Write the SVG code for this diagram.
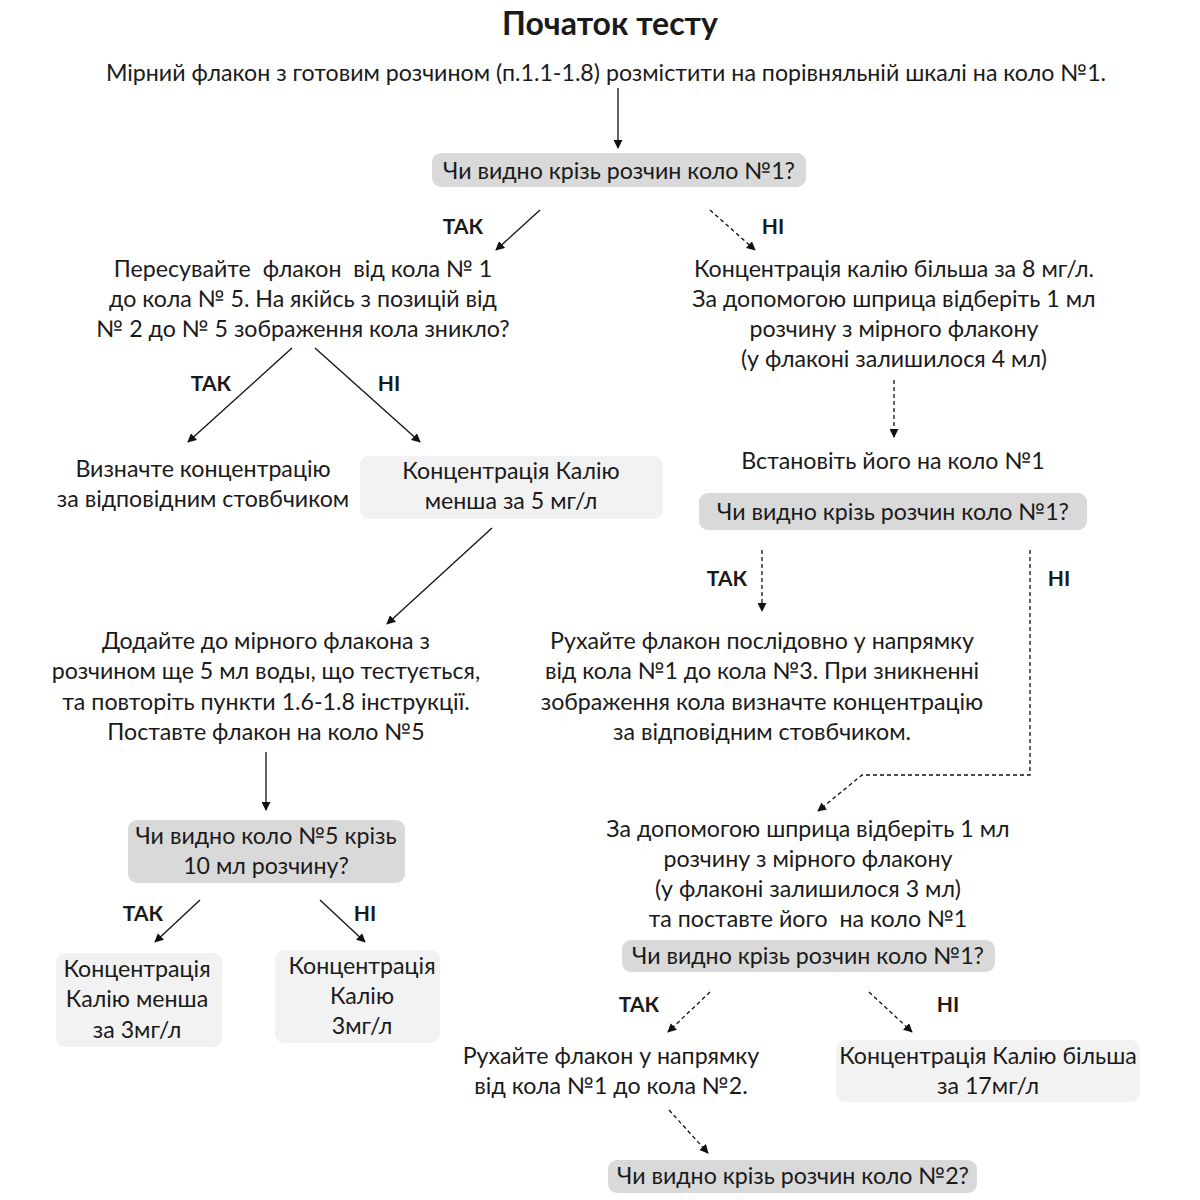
<svg xmlns="http://www.w3.org/2000/svg" width="1200" height="1200" viewBox="0 0 1200 1200">
<defs>
<marker id="ah" viewBox="0 0 10 10" refX="9" refY="5" markerWidth="9" markerHeight="9" markerUnits="userSpaceOnUse" orient="auto"><path d="M0,0 L10,5 L0,10 z" fill="#111"/></marker>
<style>
text{font-family:Lato,"Liberation Sans",sans-serif;font-size:23.2px;fill:#1a1a1a;text-anchor:middle;white-space:pre}
.t{font-size:32px;font-weight:bold}
.lb{font-weight:bold;font-size:21px}
.q{fill:#d9d9d9}
.r{fill:#f2f2f2}
.s{stroke:#111;stroke-width:1.3;fill:none;marker-end:url(#ah)}
.d{stroke:#111;stroke-width:1.3;fill:none;stroke-dasharray:4,3;marker-end:url(#ah)}
</style>
</defs>
<rect width="1200" height="1200" fill="#fff"/>
<g id="title"><text class="t" x="610" y="35">Початок тесту</text></g>
<g id="n-start"><text x="606" y="81">Мірний флакон з готовим розчином (п.1.1-1.8) розмістити на порівняльній шкалі на коло №1.</text></g>
<g id="n-q1"><rect class="q" x="432" y="153" width="374" height="34" rx="9"/><text x="619" y="179">Чи видно крізь розчин коло №1?</text></g>
<g id="n-move"><text x="303" y="277">Пересувайте  флакон  від кола № 1</text><text x="303" y="307">до кола № 5. На якійсь з позицій від</text><text x="303" y="337">№ 2 до № 5 зображення кола зникло?</text></g>
<g id="n-more8"><text x="894" y="277">Концентрація калію більша за 8 мг/л.</text><text x="894" y="307">За допомогою шприца відберіть 1 мл</text><text x="894" y="337">розчину з мірного флакону</text><text x="894" y="367">(у флаконі залишилося 4 мл)</text></g>
<g id="n-det1"><text x="203" y="477">Визначте концентрацію</text><text x="203" y="507">за відповідним стовбчиком</text></g>
<g id="n-less5"><rect class="r" x="360" y="456" width="303" height="63" rx="9"/><text x="511" y="479">Концентрація Калію</text><text x="511" y="509">менша за 5 мг/л</text></g>
<g id="n-set1"><text x="893" y="469">Встановіть його на коло №1</text></g>
<g id="n-q2"><rect class="q" x="699" y="493" width="388" height="37" rx="9"/><text x="893" y="520">Чи видно крізь розчин коло №1?</text></g>
<g id="n-add"><text x="266" y="649">Додайте до мірного флакона з</text><text x="266" y="679">розчином ще 5 мл воды, що тестується,</text><text x="266" y="710">та повторіть пункти 1.6-1.8 інструкції.</text><text x="266" y="740">Поставте флакон на коло №5</text></g>
<g id="n-move3"><text x="762" y="649">Рухайте флакон послідовно у напрямку</text><text x="762" y="679">від кола №1 до кола №3. При зникненні</text><text x="762" y="710">зображення кола визначте концентрацію</text><text x="762" y="740">за відповідним стовбчиком.</text></g>
<g id="n-q5"><rect class="q" x="128" y="820" width="277" height="63" rx="9"/><text x="266" y="844">Чи видно коло №5 крізь</text><text x="266" y="874">10 мл розчину?</text></g>
<g id="n-less3"><rect class="r" x="56" y="953" width="166" height="94" rx="9"/><text x="137" y="977">Концентрація</text><text x="137" y="1007">Калію менша</text><text x="137" y="1038">за 3мг/л</text></g>
<g id="n-eq3"><rect class="r" x="275" y="950" width="165" height="93" rx="9"/><text x="362" y="974">Концентрація</text><text x="362" y="1004">Калію</text><text x="362" y="1034">3мг/л</text></g>
<g id="n-draw3"><text x="808" y="837">За допомогою шприца відберіть 1 мл</text><text x="808" y="867">розчину з мірного флакону</text><text x="808" y="897">(у флаконі залишилося 3 мл)</text><text x="808" y="927">та поставте його  на коло №1</text></g>
<g id="n-q3"><rect class="q" x="622" y="940" width="373" height="32" rx="9"/><text x="808" y="964">Чи видно крізь розчин коло №1?</text></g>
<g id="n-move2"><text x="611" y="1064">Рухайте флакон у напрямку</text><text x="611" y="1094">від кола №1 до кола №2.</text></g>
<g id="n-more17"><rect class="r" x="836" y="1040" width="304" height="62" rx="9"/><text x="988" y="1064">Концентрація Калію більша</text><text x="988" y="1094">за 17мг/л</text></g>
<g id="n-q4"><rect class="q" x="608" y="1160" width="369" height="33" rx="9"/><text x="793" y="1184">Чи видно крізь розчин коло №2?</text></g>
<g id="labels">
<text class="lb" x="463" y="234">ТАК</text><text class="lb" x="773" y="234">НІ</text>
<text class="lb" x="211" y="391">ТАК</text><text class="lb" x="389" y="391">НІ</text>
<text class="lb" x="727" y="586">ТАК</text><text class="lb" x="1059" y="586">НІ</text>
<text class="lb" x="143" y="921">ТАК</text><text class="lb" x="365" y="921">НІ</text>
<text class="lb" x="639" y="1012">ТАК</text><text class="lb" x="948" y="1012">НІ</text>
</g>
<g id="connectors">
<path class="s" d="M618,88 L618,148"/>
<path class="s" d="M540,210 L496,250"/>
<path class="d" d="M710,210 L755,250"/>
<path class="s" d="M292,348 L188,442"/>
<path class="s" d="M315,348 L420,442"/>
<path class="d" d="M894,380 L894,437"/>
<path class="s" d="M492,528 L387,624"/>
<path class="d" d="M762,550 L762,611"/>
<path class="d" d="M1030,550 L1030,775 L862,775 L818,811"/>
<path class="s" d="M266,752 L266,810"/>
<path class="s" d="M200,900 L155,942"/>
<path class="s" d="M320,900 L365,942"/>
<path class="d" d="M710,992 L668,1032"/>
<path class="d" d="M869,992 L912,1032"/>
<path class="d" d="M669,1110 L708,1153"/>
</g>
</svg>
